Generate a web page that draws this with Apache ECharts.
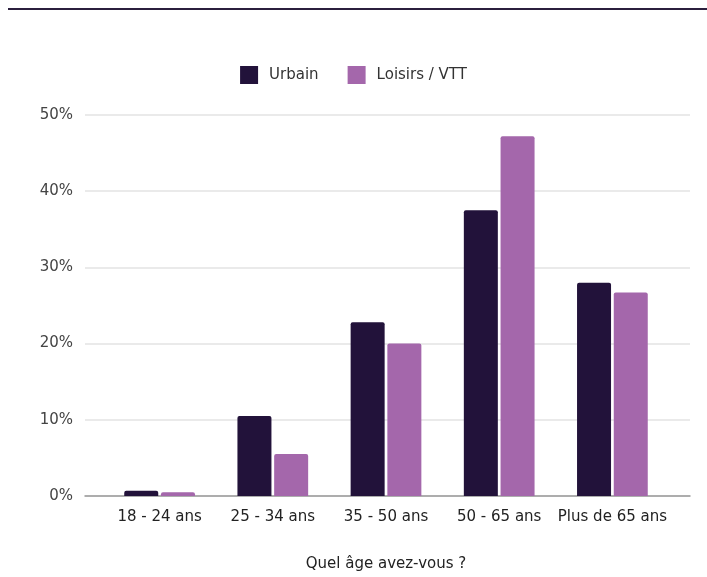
<!DOCTYPE html>
<html>
<head>
<meta charset="utf-8">
<script src="https://cdn.jsdelivr.net/npm/echarts@6/dist/echarts.min.js"></script>
<style>
html,body{margin:0;padding:0;background:#fff;}
#chart{width:707px;height:577px;}
</style>
</head>
<body>
<div id="chart"></div>
<script>
const categories = ['18 - 24 ans', '25 - 34 ans', '35 - 50 ans', '50 - 65 ans', 'Plus de 65 ans'];
const urbain = [0.7, 10.5, 22.8, 37.5, 28.0];
const loisirs = [0.5, 5.5, 20.0, 47.2, 26.7];
const seriesNames = ['Urbain', 'Loisirs / VTT'];
const yTicks = [0, 10, 20, 30, 40, 50];
const axisTitle = 'Quel âge avez-vous ?';

const chart = echarts.init(document.getElementById('chart'), null, {renderer: 'canvas'});
const font = 'DejaVu Sans, Verdana, sans-serif';
chart.setOption({
  animation: false,
  backgroundColor: '#ffffff',
  textStyle: {fontFamily: font},
  graphic: [{
    type: 'rect', shape: {x: 8, y: 8, width: 699, height: 2},
    style: {fill: '#2b1f3d'}
  }],
  legend: {
    data: seriesNames,
    top: 61,
    left: 'center',
    itemWidth: 18,
    itemHeight: 18,
    itemGap: 29,
    icon: 'rect',
    textStyle: {fontSize: 15, color: '#333', fontFamily: font, padding: [0, 0, 0, 6]}
  },
  grid: [
    {left: 85, right: 17, top: 115, bottom: 81},
    {left: 103, width: 566, top: 115, bottom: 81}
  ],
  xAxis: [
    {
      gridIndex: 0, type: 'category', data: categories,
      axisLabel: {show: false}, axisTick: {show: false},
      axisLine: {lineStyle: {color: '#999', width: 1.5}}
    },
    {
      gridIndex: 1, type: 'category', data: categories,
      axisTick: {show: false}, axisLine: {show: false},
      axisLabel: {fontSize: 15, color: '#222', margin: 14, fontFamily: font, interval: 0, hideOverlap: false},
      name: axisTitle, nameLocation: 'middle', nameGap: 61,
      nameTextStyle: {fontSize: 15, color: '#222', fontFamily: font}
    }
  ],
  yAxis: [
    {
      gridIndex: 0, type: 'value', min: yTicks[0], max: yTicks[yTicks.length - 1], interval: 10,
      axisLabel: {formatter: '{value}%', fontSize: 15, color: '#444', margin: 12, fontFamily: font},
      axisLine: {show: false}, axisTick: {show: false},
      splitLine: {lineStyle: {color: '#e3e3e3', width: 1.5}}
    },
    {
      gridIndex: 1, type: 'value', min: yTicks[0], max: yTicks[yTicks.length - 1], interval: 10,
      show: false, splitLine: {show: false}
    }
  ],
  series: [
    {
      name: seriesNames[0], type: 'bar', xAxisIndex: 1, yAxisIndex: 1,
      data: urbain, barWidth: 34, barGap: '8%',
      itemStyle: {color: '#22123a', borderRadius: [2, 2, 0, 0]}
    },
    {
      name: seriesNames[1], type: 'bar', xAxisIndex: 1, yAxisIndex: 1,
      data: loisirs, barWidth: 34, barGap: '8%',
      itemStyle: {color: '#a467ab', borderRadius: [2, 2, 0, 0]}
    }
  ]
});
</script>
</body>
</html>
